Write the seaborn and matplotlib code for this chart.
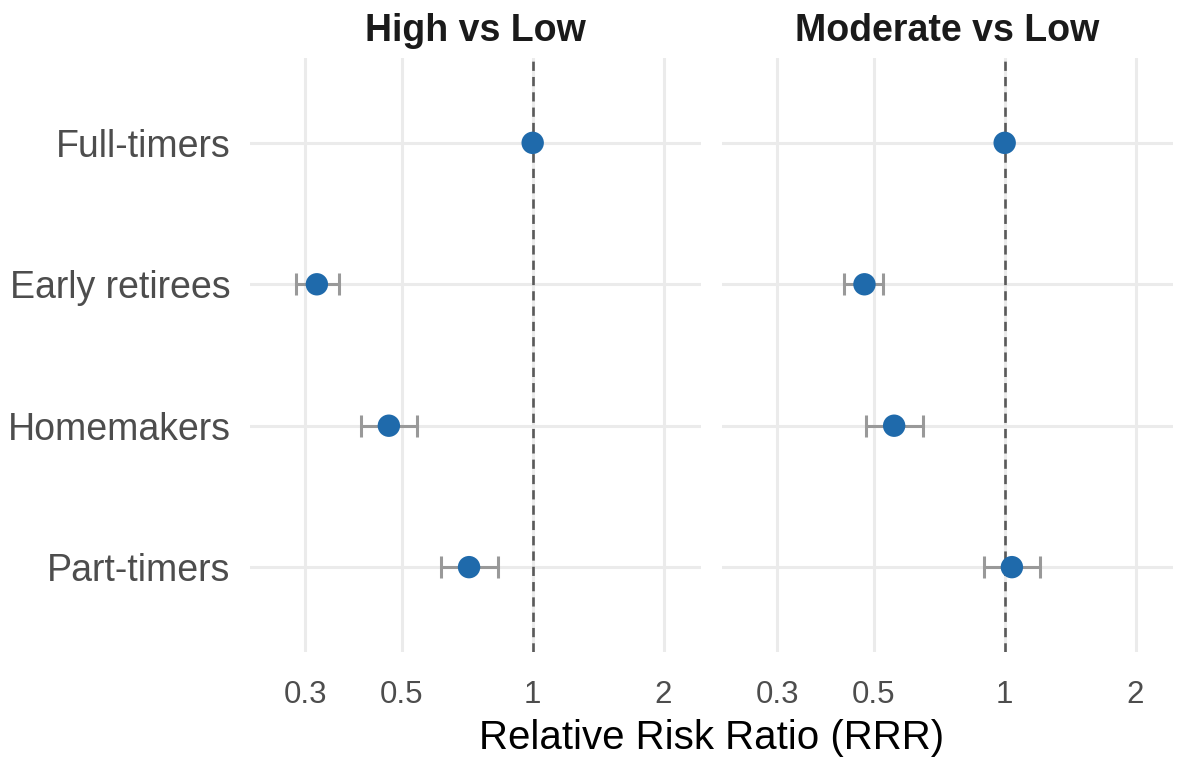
import numpy as np
import pandas as pd
import matplotlib
matplotlib.use("Agg")
import matplotlib.pyplot as plt
import seaborn as sns

categories = ["Full-timers", "Early retirees", "Homemakers", "Part-timers"]
panels = ["High vs Low", "Moderate vs Low"]
high_rrr = [1.0, 0.319, 0.467, 0.714]
high_lo = [np.nan, 0.286, 0.402, 0.616]
high_hi = [np.nan, 0.358, 0.541, 0.834]
mod_rrr = [1.0, 0.476, 0.557, 1.039]
mod_lo = [np.nan, 0.428, 0.480, 0.897]
mod_hi = [np.nan, 0.526, 0.649, 1.207]
xticks = [0.3, 0.5, 1, 2]
xtick_labels = ["0.3", "0.5", "1", "2"]

df = pd.concat([
    pd.DataFrame({"panel": panels[0], "cat": categories, "rrr": high_rrr, "lo": high_lo, "hi": high_hi}),
    pd.DataFrame({"panel": panels[1], "cat": categories, "rrr": mod_rrr, "lo": mod_lo, "hi": mod_hi}),
], ignore_index=True)
df["y"] = df["cat"].map({c: i for i, c in enumerate(categories)})

sns.set_theme(style="white")
plt.rcParams["font.family"] = ["Liberation Sans", "DejaVu Sans"]

W, H = 1178, 759
fig = plt.figure(figsize=(W / 100, H / 100), dpi=100)
boxes = [(250, 58, 701, 652), (722, 58, 1173, 652)]
grid_c = "#EBEBEB"
point_c = "#1F6AAB"
err_c = "#999999"

for i, (panel, (x0, y0, x1, y1)) in enumerate(zip(panels, boxes)):
    ax = fig.add_axes([x0 / W, 1 - y1 / H, (x1 - x0) / W, (y1 - y0) / H])
    sub = df[df["panel"] == panel]
    ax.set_xscale("log")
    ax.set_xlim(0.2239, 2.438)
    ax.set_ylim(3.6, -0.6)
    for xt in xticks:
        ax.axvline(xt, color=grid_c, lw=2.2, zorder=0)
    for yv in range(len(categories)):
        ax.axhline(yv, color=grid_c, lw=2.2, zorder=0)
    ax.axvline(1, color="#5A5A5A", lw=1.9, ls=(0, (3.5, 2.3)), zorder=1)
    ci = sub.dropna(subset=["lo", "hi"])
    ax.errorbar(ci["rrr"], ci["y"],
                xerr=[ci["rrr"] - ci["lo"], ci["hi"] - ci["rrr"]],
                fmt="none", ecolor=err_c, elinewidth=2.2, capsize=8,
                capthick=2.2, zorder=2)
    sns.scatterplot(data=sub, x="rrr", y="y", ax=ax, color=point_c, s=260,
                    edgecolor="none", zorder=3, legend=False)
    ax.set_xticks(xticks)
    ax.set_xticklabels(xtick_labels)
    ax.xaxis.set_minor_locator(matplotlib.ticker.NullLocator())
    ax.tick_params(axis="x", length=0, pad=20, labelsize=22.5, labelcolor="#4D4D4D")
    ax.set_yticks(range(len(categories)))
    if i == 0:
        ax.set_yticklabels(categories)
        ax.tick_params(axis="y", length=0, pad=14, labelsize=27, labelcolor="#4D4D4D")
    else:
        ax.set_yticklabels([])
        ax.tick_params(axis="y", length=0)
    ax.set_xlabel("")
    ax.set_ylabel("")
    for s in ax.spines.values():
        s.set_visible(False)
    ax.grid(False)
    ax.set_title(panel, fontsize=27, fontweight="bold", color="#1A1A1A", pad=12)

fig.text(711.5 / W, 1 - 738 / H, "Relative Risk Ratio (RRR)", ha="center", va="center",
         fontsize=29, color="black")
fig.savefig("out.png", dpi=100, facecolor="white")
